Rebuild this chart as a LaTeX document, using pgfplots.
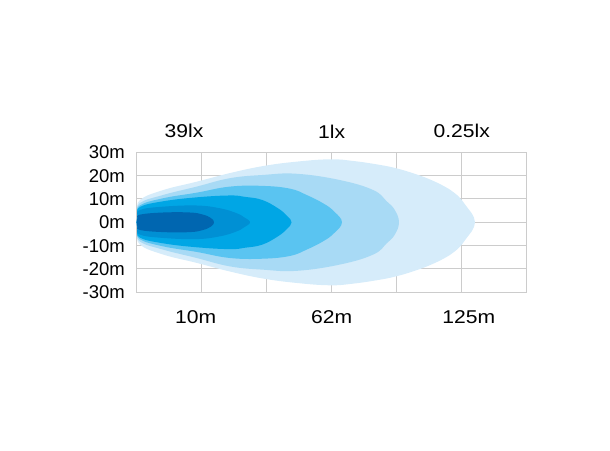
\documentclass[border=0pt]{standalone}
\usepackage{fontspec}
\setmainfont{Liberation Sans}
\usepackage{pgfplots}
\pgfplotsset{compat=1.18}

\definecolor{gridgray}{RGB}{204,204,204}
\definecolor{lux1}{RGB}{214,236,250}
\definecolor{lux2}{RGB}{168,218,245}
\definecolor{lux3}{RGB}{90,196,241}
\definecolor{lux4}{RGB}{0,166,229}
\definecolor{lux5}{RGB}{0,144,212}
\definecolor{lux6}{RGB}{0,102,176}

\newcommand\lbl[1]{\scalebox{1.14}[1]{\fontsize{18.5}{18.5}\selectfont #1}}

\begin{document}
\begin{tikzpicture}
\path[use as bounding box] (0,0) rectangle (610pt,450pt);
\begin{axis}[
    at={(136.7pt,157.7pt)}, anchor=south west,
    scale only axis, width=390pt, height=140pt,
    xmin=0, xmax=6, ymin=-30, ymax=30,
    xtick={0,1,2,3,4,5,6}, xticklabels={,,,,,,},
    ytick={-30,-20,-10,0,10,20,30},
    yticklabels={-30m,-20m,-10m,0m,10m,20m,30m},
    yticklabel style={font=\fontsize{18.5}{18.5}\selectfont, inner sep=0pt, xshift=-11.7pt},
    grid=major, major grid style={draw=gridgray, line width=1pt},
    axis line style={draw=gridgray, line width=1pt},
    major tick length=0pt,
    clip=false,
    every axis plot/.append style={draw=none, smooth, tension=0.7},
  ]
  % 0.25 lx
  \addplot[fill=lux1] coordinates {
    (0,0) (0.012,4.3) (0.051,9.6) (0.405,13.8) (0.923,17.4) (1.435,21.1)
    (1.943,24.1) (2.462,26.0) (2.974,27.0) (3.328,26.3) (3.743,24.6)
    (4.000,23.1) (4.255,21.0) (4.500,18.5) (4.740,15.3) (4.897,12.4)
    (5.000,9.6) (5.077,6.7) (5.154,3.9) (5.205,0)
    (5.154,-3.9) (5.077,-6.7) (5.000,-9.6) (4.897,-12.4) (4.740,-15.3)
    (4.500,-18.5) (4.255,-21.0) (4.000,-23.1) (3.743,-24.6) (3.328,-26.3)
    (2.974,-27.0) (2.462,-26.0) (1.943,-24.1) (1.435,-21.1) (0.923,-17.4)
    (0.405,-13.8) (0.051,-9.6) (0.012,-4.3) (0,0)
  };
  \addplot[fill=lux2] coordinates {
    (0,0) (0.012,3.9) (0.051,8.3) (0.405,11.7) (0.923,15.3) (1.435,18.9)
    (1.943,20.3) (2.462,20.8) (3.128,18.1) (3.640,13.8) (3.846,9.0)
    (3.970,5.3) (4.035,0)
    (3.970,-5.3) (3.846,-9.0) (3.640,-13.8) (3.128,-18.1) (2.462,-20.8)
    (1.943,-20.3) (1.435,-18.9) (0.923,-15.3) (0.405,-11.7) (0.051,-8.3)
    (0.012,-3.9) (0,0)
  };
  \addplot[fill=lux3] coordinates {
    (0,0) (0.012,3.4) (0.051,7.3) (0.405,10.3) (0.923,12.7) (1.435,15.3)
    (1.943,15.6) (2.360,14.4) (2.615,11.7) (2.871,8.1) (3.035,4.7) (3.158,0)
    (3.035,-4.7) (2.871,-8.1) (2.615,-11.7) (2.360,-14.4) (1.943,-15.6)
    (1.435,-15.3) (0.923,-12.7) (0.405,-10.3) (0.051,-7.3) (0.012,-3.4) (0,0)
  };
  \addplot[fill=lux4] coordinates {
    (0,0) (0.012,3.0) (0.051,6.6) (0.405,9.0) (0.923,10.7) (1.435,11.5)
    (1.666,10.9) (1.928,9.6) (2.174,6.0) (2.312,2.8) (2.382,0)
    (2.312,-2.8) (2.174,-6.0) (1.928,-9.6) (1.666,-10.9) (1.435,-11.5)
    (0.923,-10.7) (0.405,-9.0) (0.051,-6.6) (0.012,-3.0) (0,0)
  };
  \addplot[fill=lux5] coordinates {
    (0,0) (0.012,2.4) (0.051,5.3) (0.405,6.7) (0.923,7.2) (1.282,6.0)
    (1.528,4.0) (1.650,2.2) (1.743,0)
    (1.650,-2.2) (1.528,-4.0) (1.282,-6.0) (0.923,-7.2) (0.405,-6.7)
    (0.051,-5.3) (0.012,-2.4) (0,0)
  };
  % 39 lx
  \addplot[fill=lux6] coordinates {
    (0,0) (0.012,1.8) (0.051,3.3) (0.405,4.2) (0.820,4.2) (1.020,3.3)
    (1.143,1.8) (1.189,0)
    (1.143,-1.8) (1.020,-3.3) (0.820,-4.2) (0.405,-4.2) (0.051,-3.3)
    (0.012,-1.8) (0,0)
  };
  \node[inner sep=0pt] at (axis cs:0.728,39.0) {\lbl{39lx}};
  \node[inner sep=0pt] at (axis cs:3.0,39.0) {\lbl{1lx}};
  \node[inner sep=0pt] at (axis cs:5.0,39.0) {\lbl{0.25lx}};
  \node[inner sep=0pt] at (axis cs:0.908,-40.5) {\lbl{10m}};
  \node[inner sep=0pt] at (axis cs:3.0,-40.5) {\lbl{62m}};
  \node[inner sep=0pt] at (axis cs:5.11,-40.5) {\lbl{125m}};
\end{axis}
\end{tikzpicture}
\end{document}
